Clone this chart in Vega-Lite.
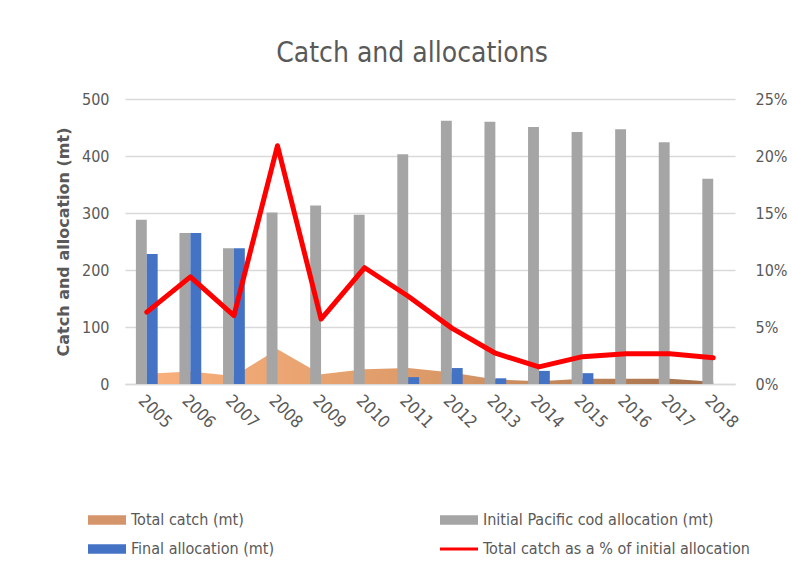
{
  "$schema": "https://vega.github.io/schema/vega-lite/v6.json",
  "width": 610,
  "height": 285,
  "autosize": {"type": "none"},
  "padding": {"left": 125, "top": 99, "right": 57, "bottom": 195},
  "background": "white",
  "config": {
    "view": {"stroke": null},
    "font": "DejaVu Sans Condensed, Lato",
    "axis": {"labelFont": "DejaVu Sans Condensed, Lato", "labelFontSize": 16, "labelColor": "#595959", "ticks": false}
  },
  "title": {"text": "Catch and allocations", "fontSize": 28, "fontWeight": "normal", "color": "#595959", "font": "DejaVu Sans Condensed, Lato", "offset": 23, "dx": -18},
  "data": {"values": [
    {"year": "2005", "catch": 18, "initial": 288, "final": 228, "pct": 0.063},
    {"year": "2006", "catch": 22, "initial": 265, "final": 265, "pct": 0.094},
    {"year": "2007", "catch": 14, "initial": 238, "final": 238, "pct": 0.060},
    {"year": "2008", "catch": 61, "initial": 301, "final": null, "pct": 0.209},
    {"year": "2009", "catch": 17, "initial": 313, "final": null, "pct": 0.057},
    {"year": "2010", "catch": 26, "initial": 297, "final": null, "pct": 0.102},
    {"year": "2011", "catch": 28, "initial": 403, "final": 12, "pct": 0.077},
    {"year": "2012", "catch": 20, "initial": 462, "final": 28, "pct": 0.049},
    {"year": "2013", "catch": 8, "initial": 460, "final": 10, "pct": 0.027},
    {"year": "2014", "catch": 5, "initial": 451, "final": 23, "pct": 0.015},
    {"year": "2015", "catch": 9, "initial": 442, "final": 19, "pct": 0.024},
    {"year": "2016", "catch": 9, "initial": 447, "final": null, "pct": 0.0265},
    {"year": "2017", "catch": 9, "initial": 424, "final": null, "pct": 0.0265},
    {"year": "2018", "catch": 4, "initial": 360, "final": null, "pct": 0.023}
  ]},
  "encoding": {
    "x": {
      "field": "year", "type": "ordinal",
      "scale": {"paddingInner": 0.5, "paddingOuter": 0.25},
      "axis": {"title": null, "labelAngle": 45, "labelFontSize": 17, "domainColor": "#D9D9D9", "domainWidth": 1.5, "labelPadding": 8, "grid": false}
    }
  },
  "layer": [
    {
      "mark": {"type": "area", "color": {"gradient": "linear", "x1": 0, "x2": 1, "y1": 0, "y2": 0, "stops": [{"offset": 0, "color": "#F9B07C"}, {"offset": 0.5, "color": "#DC9A68"}, {"offset": 1, "color": "#A36F4A"}]}},
      "encoding": {
        "y": {
          "field": "catch", "type": "quantitative",
          "scale": {"domain": [0, 500]},
          "axis": {
            "orient": "left", "values": [0, 100, 200, 300, 400, 500], "grid": true, "gridColor": "#D9D9D9", "gridWidth": 1.5, "domain": false, "labelPadding": 16,
            "title": "Catch and allocation (mt)", "titleFont": "DejaVu Sans", "titleFontWeight": "bold", "titleFontSize": 16, "titleColor": "#595959", "titlePadding": 10
          }
        }
      }
    },
    {
      "transform": [{"fold": ["initial", "final"], "as": ["series", "value"]}],
      "mark": {"type": "bar"},
      "encoding": {
        "y": {"field": "value", "type": "quantitative", "scale": {"domain": [0, 500]}, "axis": null},
        "xOffset": {"field": "series", "scale": {"domain": ["initial", "final"]}},
        "color": {
          "field": "series", "type": "nominal",
          "scale": {"domain": ["catch", "final", "initial", "pct"], "range": ["#D4956A", "#4472C4", "#A5A5A5", "#FF0000"]},
          "legend": {
            "orient": "none", "legendX": -37, "legendY": 411, "columns": 2, "title": null,
            "labelFont": "DejaVu Sans Condensed, Lato", "labelFontSize": 16, "labelColor": "#595959", "labelOffset": 5, "labelLimit": 400,
            "columnPadding": 165, "rowPadding": 9, "clipHeight": 20,
            "labelExpr": "{'catch':'Total catch (mt)','initial':'Initial Pacific cod allocation (mt)','final':'Final allocation (mt)','pct':'Total catch as a % of initial allocation'}[datum.value]",
            "symbolSize": 1444,
            "encode": {
              "symbols": {
                "update": {
                  "shape": [{"test": "datum.value === 'pct'", "value": "M-1,-0.08L1,-0.08L1,0.08L-1,0.08Z"}, {"value": "M-1,-0.25L1,-0.25L1,0.25L-1,0.25Z"}],
                  "size": {"value": 1444},
                  "strokeWidth": {"value": 0},
                  "opacity": {"value": 1}
                }
              }
            }
          }
        }
      }
    },
    {
      "mark": {"type": "line", "strokeWidth": 5, "strokeCap": "round", "strokeJoin": "round"},
      "encoding": {
        "y": {
          "field": "pct", "type": "quantitative",
          "scale": {"domain": [0, 0.25]},
          "axis": {"orient": "right", "values": [0, 0.05, 0.1, 0.15, 0.2, 0.25], "format": ".0%", "grid": false, "domain": false, "labelPadding": 20, "title": null}
        },
        "color": {"datum": "pct"}
      }
    }
  ],
  "resolve": {"scale": {"y": "independent"}}
}
